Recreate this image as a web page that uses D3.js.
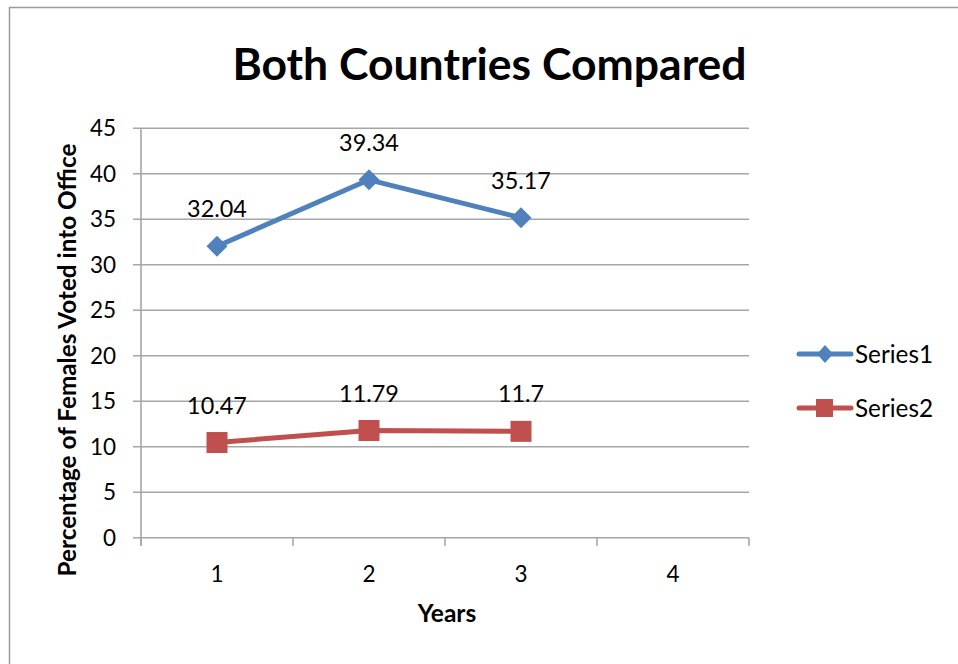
<!DOCTYPE html>
<html><head><meta charset="utf-8">
<script src="https://cdn.jsdelivr.net/npm/d3@7"></script>
<style>html,body{margin:0;padding:0;background:#fff;}svg{display:block;}</style>
</head><body>
<svg id="c" width="958" height="664"></svg>
<script>
const categories = [1, 2, 3, 4];
const series1 = [32.04, 39.34, 35.17];
const series2 = [10.47, 11.79, 11.7];
const yTicks = [0, 5, 10, 15, 20, 25, 30, 35, 40, 45];
const seriesNames = ["Series1", "Series2"];
const colors = ["#4F81BD", "#C0504D"];

const font = "Lato, 'Open Sans', sans-serif";
const svg = d3.select("#c");
svg.append("rect").attr("x", 9.5).attr("y", 7.5).attr("width", 960).attr("height", 670)
  .attr("fill", "#fff").attr("stroke", "#9a9a9a").attr("stroke-width", 1.5);

const L = 141, R = 749, T = 128.3, B = 537.8;
const x = d3.scaleBand().domain(categories).range([L, R]).paddingInner(0).paddingOuter(0);
const y = d3.scaleLinear().domain([0, 45]).range([B, T]);
const gridColor = "#a6a6a6";

// gridlines
svg.append("g").selectAll("line").data(yTicks).join("line")
  .attr("x1", L - 8).attr("x2", R).attr("y1", d => y(d)).attr("y2", d => y(d))
  .attr("stroke", gridColor).attr("stroke-width", 1.6);

// y axis line
svg.append("line").attr("x1", L).attr("x2", L).attr("y1", T).attr("y2", B + 8)
  .attr("stroke", gridColor).attr("stroke-width", 1.6);
// x tick marks
const xTickPos = categories.map(c => x(c)).concat([R]);
svg.append("g").selectAll("line").data(xTickPos).join("line")
  .attr("x1", d => d).attr("x2", d => d).attr("y1", B).attr("y2", B + 8)
  .attr("stroke", gridColor).attr("stroke-width", 1.6);

// y tick labels
svg.append("g").selectAll("text").data(yTicks).join("text")
  .attr("x", 116).attr("y", d => y(d) + 8)
  .attr("text-anchor", "end").attr("font-family", font).attr("font-size", 22.5)
  .attr("fill", "#000").text(d => d);

// x tick labels
svg.append("g").selectAll("text").data(categories).join("text")
  .attr("x", d => x(d) + x.bandwidth() / 2).attr("y", 582)
  .attr("text-anchor", "middle").attr("font-family", font).attr("font-size", 22.5)
  .attr("fill", "#000").text(d => d);

// titles
svg.append("text").attr("x", 489.5).attr("y", 80).attr("text-anchor", "middle")
  .attr("font-family", font).attr("font-weight", "bold").attr("font-size", 44.5)
  .text("Both Countries Compared");
svg.append("text").attr("x", 447).attr("y", 622).attr("text-anchor", "middle")
  .attr("font-family", font).attr("font-weight", "bold").attr("font-size", 24.5)
  .text("Years");
svg.append("text").attr("transform", "translate(76,360) rotate(-90)").attr("text-anchor", "middle")
  .attr("font-family", font).attr("font-weight", "bold").attr("font-size", 24.3)
  .text("Percentage of Females Voted into Office");

const cx = i => x(categories[i]) + x.bandwidth() / 2;
const line = d3.line().x((d, i) => cx(i)).y(d => y(d));
const data = [series1, series2];
const diamond = (w, h) => `M0,${-h}L${w},0L0,${h}L${-w},0Z`;

data.forEach((s, k) => {
  svg.append("path").datum(s).attr("d", line).attr("fill", "none")
    .attr("stroke", colors[k]).attr("stroke-width", 5).attr("stroke-linejoin", "round");
  const g = svg.append("g");
  if (k === 0) {
    g.selectAll("path").data(s).join("path")
      .attr("d", diamond(10.5, 10.5))
      .attr("transform", (d, i) => `translate(${cx(i)},${y(d)})`)
      .attr("fill", colors[k]);
  } else {
    g.selectAll("rect").data(s).join("rect")
      .attr("x", (d, i) => cx(i) - 10.5).attr("y", d => y(d) - 10.5)
      .attr("width", 21).attr("height", 21).attr("fill", colors[k]);
  }
  svg.append("g").selectAll("text").data(s).join("text")
    .attr("x", (d, i) => cx(i)).attr("y", d => y(d) - 29)
    .attr("text-anchor", "middle").attr("font-family", font).attr("font-size", 23.4)
    .attr("fill", "#000").text(d => d);
});

// legend
const legY = [354, 408];
seriesNames.forEach((n, k) => {
  const g = svg.append("g");
  g.append("line").attr("x1", 799).attr("x2", 851).attr("y1", legY[k]).attr("y2", legY[k])
    .attr("stroke", colors[k]).attr("stroke-width", 5).attr("stroke-linecap", "round");
  if (k === 0) {
    g.append("path").attr("d", diamond(8, 9))
      .attr("transform", `translate(825,${legY[k]})`).attr("fill", colors[k]);
  } else {
    g.append("rect").attr("x", 816).attr("y", legY[k] - 9).attr("width", 17).attr("height", 18)
      .attr("fill", colors[k]);
  }
  g.append("text").attr("x", 855).attr("y", legY[k] + 8.5)
    .attr("font-family", font).attr("font-size", 24.3).text(n);
});
</script>
</body></html>
